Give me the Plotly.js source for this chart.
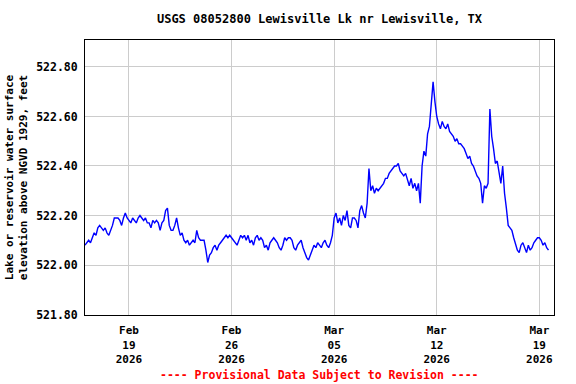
<!DOCTYPE html>
<html>
<head>
<meta charset="utf-8">
<script src="https://cdn.plot.ly/plotly-3.0.1.min.js"></script>
<style>html,body{margin:0;padding:0;background:#fff}#chart{width:576px;height:384px}</style>
</head>
<body>
<div id="chart"></div>
<script>
// Gage height readings, every 3 hours starting Feb 16 2026 00:00
const startTime = '2026-02-16T00:00:00';
const stepHours = 3;
const elevation = [
  522.08, 522.09, 522.10, 522.09, 522.11, 522.13, 522.12, 522.15,
  522.16, 522.15, 522.14, 522.15, 522.13, 522.12, 522.14, 522.16,
  522.19, 522.19, 522.19, 522.18, 522.16, 522.19, 522.21, 522.19,
  522.18, 522.17, 522.19, 522.18, 522.17, 522.19, 522.20, 522.19,
  522.18, 522.19, 522.17, 522.17, 522.15, 522.18, 522.17, 522.18,
  522.17, 522.14, 522.17, 522.18, 522.22, 522.23, 522.16, 522.14,
  522.14, 522.16, 522.19, 522.15, 522.12, 522.13, 522.10, 522.09,
  522.10, 522.08, 522.09, 522.10, 522.09, 522.14, 522.11, 522.10,
  522.10, 522.10, 522.06, 522.01, 522.04, 522.05, 522.07, 522.08,
  522.06, 522.08, 522.09, 522.10, 522.11, 522.12, 522.11, 522.12,
  522.11, 522.10, 522.09, 522.08, 522.10, 522.12, 522.11, 522.12,
  522.10, 522.12, 522.09, 522.10, 522.08, 522.11, 522.12, 522.10,
  522.11, 522.10, 522.07, 522.08, 522.06, 522.09, 522.10, 522.11,
  522.10, 522.09, 522.07, 522.06, 522.08, 522.11, 522.10, 522.11,
  522.11, 522.10, 522.07, 522.06, 522.08, 522.09, 522.10, 522.07,
  522.05, 522.03, 522.02, 522.04, 522.06, 522.08, 522.07, 522.09,
  522.08, 522.07, 522.09, 522.10, 522.08, 522.07, 522.09, 522.12,
  522.19, 522.21, 522.17, 522.19, 522.16, 522.20, 522.18, 522.22,
  522.16, 522.15, 522.19, 522.19, 522.18, 522.15, 522.22, 522.24,
  522.21, 522.19, 522.25, 522.39, 522.30, 522.32, 522.29, 522.31,
  522.30, 522.31, 522.32, 522.33, 522.35, 522.35, 522.37, 522.38,
  522.39, 522.40, 522.40, 522.41, 522.38, 522.37, 522.36, 522.37,
  522.34, 522.32, 522.35, 522.31, 522.33, 522.30, 522.33, 522.25,
  522.40, 522.46, 522.44, 522.53, 522.56, 522.66, 522.74, 522.66,
  522.60, 522.57, 522.55, 522.58, 522.56, 522.55, 522.57, 522.54,
  522.53, 522.52, 522.50, 522.51, 522.49, 522.49, 522.48, 522.47,
  522.45, 522.43, 522.44, 522.41, 522.40, 522.38, 522.36, 522.35,
  522.33, 522.25, 522.32, 522.31, 522.33, 522.63, 522.52, 522.47,
  522.41, 522.42, 522.38, 522.33, 522.40, 522.29, 522.23, 522.16,
  522.15, 522.14, 522.11, 522.08, 522.06, 522.05, 522.08, 522.09,
  522.07, 522.05, 522.08, 522.06, 522.07, 522.09, 522.10, 522.11,
  522.11, 522.10, 522.08, 522.09, 522.07, 522.06
];
const tickDates = ['2026-02-19', '2026-02-26', '2026-03-05', '2026-03-12', '2026-03-19'];
const tickLabels = ['Feb<br>19<br>2026', 'Feb<br>26<br>2026', 'Mar<br>05<br>2026', 'Mar<br>12<br>2026', 'Mar<br>19<br>2026'];
const yTicks = [521.8, 522.0, 522.2, 522.4, 522.6, 522.8];
const yTickLabels = ['521.80', '522.00', '522.20', '522.40', '522.60', '522.80'];

function pad(n){return n<10?'0'+n:''+n;}
const t0 = new Date(startTime + 'Z').getTime();
const times = elevation.map((_, i) => {
  const d = new Date(t0 + i * stepHours * 3600000);
  return d.getUTCFullYear() + '-' + pad(d.getUTCMonth()+1) + '-' + pad(d.getUTCDate()) + ' ' + pad(d.getUTCHours()) + ':00';
});

const mono = 'DejaVu Sans Mono, Liberation Mono, monospace';
const trace = {
  x: times, y: elevation, type: 'scatter', mode: 'lines',
  line: {color: '#0000FF', width: 1.4}, hoverinfo: 'skip'
};
const layout = {
  width: 576, height: 384,
  margin: {l: 85, r: 22, t: 40, b: 69},
  paper_bgcolor: '#FFFFFF', plot_bgcolor: '#FFFFFF',
  showlegend: false,
  title: {text: 'USGS 08052800 Lewisville Lk nr Lewisville, TX',
          font: {family: mono, size: 12, color: '#000', weight: 'bold'},
          x: 0.5, xref: 'paper', y: 0.95, yref: 'container', yanchor: 'middle'},
  xaxis: {
    type: 'date', range: ['2026-02-16 00:00', '2026-03-20 00:00'],
    tickmode: 'array', tickvals: tickDates, ticktext: tickLabels,
    tickfont: {family: mono, size: 11, color: '#000', weight: 'bold'},
    ticklabelstandoff: 5,
    showgrid: true, gridcolor: '#CCCCCC', gridwidth: 1,
    showline: true, linecolor: '#000', linewidth: 1, mirror: true,
    ticks: '', zeroline: false, fixedrange: true
  },
  yaxis: {
    range: [521.798, 522.909],
    tickmode: 'array', tickvals: yTicks, ticktext: yTickLabels,
    tickfont: {family: mono, size: 11.5, color: '#000', weight: 'bold'},
    ticklabelstandoff: 4,
    showgrid: true, gridcolor: '#CCCCCC', gridwidth: 1,
    showline: true, linecolor: '#000', linewidth: 1, mirror: true,
    ticks: '', zeroline: false, fixedrange: true,
    title: {text: 'Lake or reservoir water surface<br>elevation above NGVD 1929, feet',
            font: {family: mono, size: 11, color: '#000', weight: 'bold'}, standoff: 6}
  },
  annotations: [{
    text: '---- Provisional Data Subject to Revision ----',
    xref: 'paper', yref: 'paper', x: 0.5, y: -0.218, xanchor: 'center', yanchor: 'middle',
    showarrow: false, font: {family: mono, size: 11.5, color: '#FF0000', weight: 'bold'}
  }]
};
Plotly.newPlot('chart', [trace], layout, {displayModeBar: false, staticPlot: true});
</script>
</body>
</html>
